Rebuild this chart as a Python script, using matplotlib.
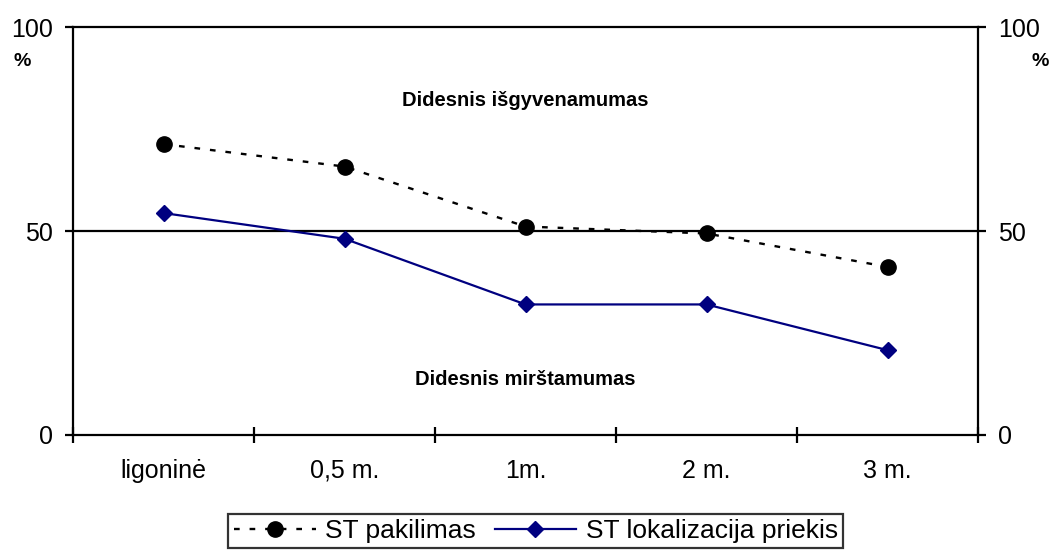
import matplotlib.pyplot as plt
from matplotlib.ticker import FixedLocator

plt.rcParams['font.family'] = ['Liberation Sans', 'DejaVu Sans']

categories = ['ligoninė', '0,5 m.', '1m.', '2 m.', '3 m.']
st_pakilimas = [71.3, 65.8, 51.1, 49.4, 41.2]
st_lokalizacija = [54.4, 48.1, 32.0, 32.0, 20.8]
y_ticks = [0, 50, 100]

fig = plt.figure(figsize=(10.54, 5.52), dpi=100)
ax = fig.add_axes([0.0693, 0.212, 0.8586, 0.739])

x = list(range(len(categories)))
ax.axhline(50, color='black', lw=1.6, zorder=1)
ax.plot(x, st_pakilimas, color='black', lw=1.7, linestyle=(0, (2.4, 4.2)),
        marker='o', markersize=11, label='ST pakilimas', zorder=3)
ax.plot(x, st_lokalizacija, color='#000080', lw=1.6,
        marker='D', markersize=8, label='ST lokalizacija priekis', zorder=3)

ax.set_xlim(-0.5, len(categories) - 0.5)
ax.set_ylim(0, 100)

# category labels sit between the tick marks
ax.set_xticks(x)
ax.set_xticklabels(categories, fontsize=18)
ax.tick_params(axis='x', which='major', length=0, pad=17)
ax.xaxis.set_minor_locator(FixedLocator([i - 0.5 for i in range(len(categories) + 1)]))
ax.tick_params(axis='x', which='minor', direction='inout', length=12, width=1.6)

ax.set_yticks(y_ticks)
ax.tick_params(axis='y', labelsize=18, direction='out', length=5.5, width=1.6,
               left=True, right=True, labelleft=True, labelright=True, pad=9)

for s in ax.spines.values():
    s.set_linewidth(1.6)

fig.text(0.0209, 0.8877, '%', fontsize=14, fontweight='bold', ha='center', va='center')
fig.text(0.9867, 0.8877, '%', fontsize=14, fontweight='bold', ha='center', va='center')

ax.text(2, 82, 'Didesnis išgyvenamumas', ha='center', va='center',
        fontsize=14.5, fontweight='bold')
ax.text(2, 13.5, 'Didesnis mirštamumas', ha='center', va='center',
        fontsize=14.5, fontweight='bold')

leg = fig.legend(loc='center', bbox_to_anchor=(0.5085, 0.038), ncol=2,
                 fontsize=19, frameon=True, fancybox=False, edgecolor='black',
                 handlelength=3.1, handletextpad=0.37, columnspacing=0.7,
                 borderpad=0.2, borderaxespad=0)
leg.get_frame().set_linewidth(1.6)

fig.savefig('out.png', dpi=100)
